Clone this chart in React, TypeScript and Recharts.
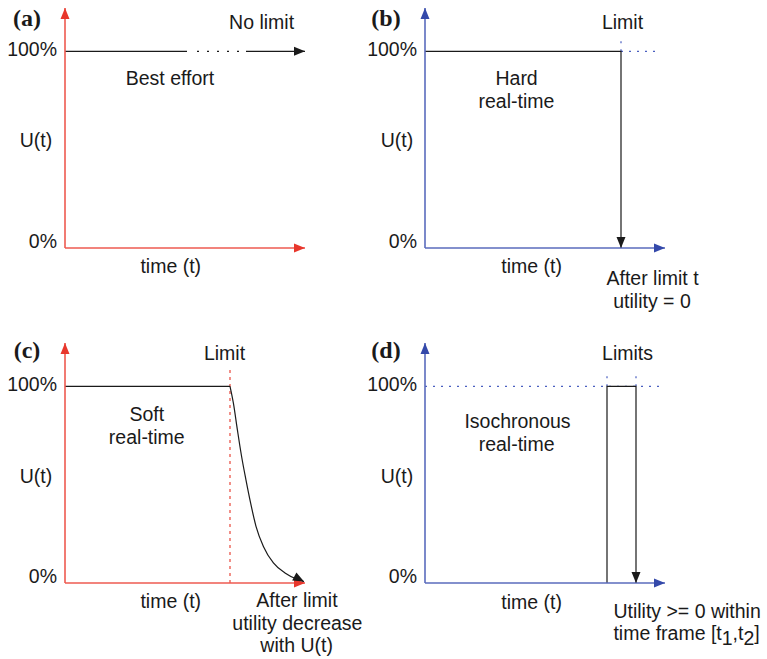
import React from 'react';
import { LineChart, Line, XAxis, YAxis, ReferenceDot } from 'recharts';

type Pt = { t: number; u: number };
type Seg = { s: string; sub?: boolean };
type Note = { t: number; u: number; text: string | Seg[]; anchor?: 'start' | 'middle' | 'end'; bold?: boolean };
type Head = { t: number; u: number; angle: number; color: string };
type Series = { data: Pt[]; color: string; dash?: string; width?: number; curve?: boolean };

const FONT = '"Liberation Sans", Arial, Helvetica, sans-serif';
const INK = '#1a1a1a';
const RED = '#ee5a50';
const RED_HEAD = '#e8372c';
const RED_DOT = '#e8463a';
const BLUE = '#5a6bbd';
const BLUE_HEAD = '#3449aa';
const BLUE_DOT = '#4a5fc0';

const timeDomain = [0, 120];
const utilityDomain = [0, 122];
const utilityTicks = [0, 100];

// (a) best effort
const bestEffortSolid: Pt[] = [{ t: 0, u: 100 }, { t: 61, u: 100 }];
const bestEffortGap: Pt[] = [{ t: 66, u: 100 }, { t: 89, u: 100 }];
const bestEffortTail: Pt[] = [{ t: 90.5, u: 100 }, { t: 120, u: 100 }];

// (b) hard real-time
const hardUtility: Pt[] = [{ t: 0, u: 100 }, { t: 98, u: 100 }, { t: 98, u: 0 }];
const hardLevel: Pt[] = [{ t: 98, u: 100 }, { t: 118, u: 100 }];
const hardMark: Pt[] = [{ t: 98, u: 100 }, { t: 98, u: 107.5 }];

// (c) soft real-time
const softFlat: Pt[] = [{ t: 0, u: 100 }, { t: 82.5, u: 100 }];
const softDecay: Pt[] = [
  { t: 82.5, u: 100 }, { t: 84.2, u: 91.4 }, { t: 86.2, u: 77.8 }, { t: 88.3, u: 64.3 },
  { t: 90.5, u: 52.3 }, { t: 92.8, u: 40.7 }, { t: 95.5, u: 28.8 }, { t: 99.2, u: 18.6 },
  { t: 104.2, u: 10.2 }, { t: 110, u: 5.1 }, { t: 115.8, u: 2.0 }, { t: 119.5, u: 0.7 },
];
const softMark: Pt[] = [{ t: 82.5, u: 0 }, { t: 82.5, u: 109 }];

// (d) isochronous real-time
const isoUtility: Pt[] = [{ t: 91, u: 0 }, { t: 91, u: 100 }, { t: 105.5, u: 100 }, { t: 105.5, u: 0 }];
const isoLevel: Pt[] = [{ t: 0, u: 100 }, { t: 118, u: 100 }];
const isoMarkT1: Pt[] = [{ t: 91, u: 100 }, { t: 91, u: 107.5 }];
const isoMarkT2: Pt[] = [{ t: 105.5, u: 100 }, { t: 105.5, u: 107.5 }];

const notesA: Note[] = [
  { t: -19, u: 116.4, text: '(a)', bold: true },
  { t: 98.3, u: 115, text: 'No limit' },
  { t: 52.5, u: 86.3, text: 'Best effort' },
  { t: -14.5, u: 55, text: 'U(t)' },
  { t: 52.9, u: -9.4, text: 'time (t)' },
];
const notesB: Note[] = [
  { t: -19.5, u: 116.4, text: '(b)', bold: true },
  { t: 98.75, u: 115, text: 'Limit' },
  { t: 45.8, u: 86.3, text: 'Hard' },
  { t: 45.7, u: 74.4, text: 'real-time' },
  { t: -14, u: 55, text: 'U(t)' },
  { t: 53.3, u: -9.4, text: 'time (t)' },
  { t: 113.75, u: -15.2, text: 'After limit t' },
  { t: 113.5, u: -26.9, text: 'utility = 0' },
];
const notesC: Note[] = [
  { t: -19, u: 118, text: '(c)', bold: true },
  { t: 79.75, u: 116.9, text: 'Limit' },
  { t: 40.9, u: 85.8, text: 'Soft' },
  { t: 40.9, u: 74.1, text: 'real-time' },
  { t: -14.5, u: 54.2, text: 'U(t)' },
  { t: 52.9, u: -9.3, text: 'time (t)' },
  { t: 116, u: -8.5, text: 'After limit' },
  { t: 116.2, u: -20.3, text: 'utility decrease' },
  { t: 115.8, u: -31.4, text: 'with U(t)' },
];
const notesD: Note[] = [
  { t: -19.5, u: 118, text: '(d)', bold: true },
  { t: 101.25, u: 116.9, text: 'Limits' },
  { t: 46.25, u: 82.3, text: 'Isochronous' },
  { t: 45.8, u: 70.6, text: 'real-time' },
  { t: -14, u: 54.2, text: 'U(t)' },
  { t: 53.3, u: -9.8, text: 'time (t)' },
  { t: 94.2, u: -14.4, text: 'Utility >= 0 within', anchor: 'start' },
  {
    t: 94.2, u: -25.4, anchor: 'start',
    text: [{ s: 'time frame [t' }, { s: '1', sub: true }, { s: ',t' }, { s: '2', sub: true }, { s: ']' }],
  },
];

function NoteText({ cx, cy, note }: { cx: number; cy: number; note: Note }) {
  const segs: Seg[] = typeof note.text === 'string' ? [{ s: note.text }] : note.text;
  let low = false;
  return (
    <text
      x={cx}
      y={cy}
      dy={note.bold ? '0.3em' : '0.35em'}
      textAnchor={note.anchor ?? 'middle'}
      fontFamily={note.bold ? '"Liberation Serif", "Times New Roman", serif' : FONT}
      fontWeight={note.bold ? 700 : 400}
      fontSize={note.bold ? 24 : 19.5}
      fill={INK}
    >
      {segs.map((seg, i) => {
        const shift = seg.sub && !low ? 5 : !seg.sub && low ? -5 : 0;
        low = !!seg.sub;
        return (
          <tspan key={i} dy={shift || undefined}>
            {seg.s}
          </tspan>
        );
      })}
    </text>
  );
}

// tick labels sit a little above their gridline in the original
function UtilityTick(p: any) {
  const lift = p.payload.value === 0 ? -6.5 : -2;
  return (
    <text x={p.x} y={p.y + lift} dy="0.35em" textAnchor="end" fontFamily={FONT} fontSize={19.5} fill={INK}>
      {`${p.payload.value}%`}
    </text>
  );
}

function ArrowHead({ cx, cy, angle, color }: { cx: number; cy: number; angle: number; color: string }) {
  const len = 11;
  const half = 4.5;
  const a = (angle * Math.PI) / 180;
  const bx = cx - len * Math.cos(a);
  const by = cy - len * Math.sin(a);
  const px = -Math.sin(a) * half;
  const py = Math.cos(a) * half;
  return <polygon points={`${cx},${cy} ${bx + px},${by + py} ${bx - px},${by - py}`} fill={color} />;
}

function Panel({
  left, top, width, height, axis, head, series, heads, notes,
}: {
  left: number; top: number; width: number; height: number; axis: string; head: string;
  series: Series[]; heads: Head[]; notes: Note[];
}) {
  const allHeads: Head[] = [
    { t: 120, u: 0, angle: 0, color: head },
    { t: 0, u: 122, angle: -90, color: head },
    ...heads,
  ];
  return (
    <div style={{ position: 'absolute', left, top }}>
      <LineChart width={width} height={height} margin={{ top: 8, right: width - 305, bottom: height - 278, left: 5 }}>
        <XAxis
          type="number"
          dataKey="t"
          domain={timeDomain}
          tick={false}
          tickLine={false}
          height={30}
          axisLine={{ stroke: axis, strokeWidth: 1.6 }}
        />
        <YAxis
          type="number"
          dataKey="u"
          domain={utilityDomain}
          ticks={utilityTicks}
          interval={0}
          tickLine={false}
          width={60}
          axisLine={{ stroke: axis, strokeWidth: 1.6 }}
          tick={<UtilityTick />}
        />
        {series.map((s, i) => (
          <Line
            key={i}
            data={s.data}
            dataKey="u"
            type={s.curve ? 'monotone' : 'linear'}
            stroke={s.color}
            strokeWidth={s.width ?? 1.2}
            strokeDasharray={s.dash}
            dot={false}
            activeDot={false}
            isAnimationActive={false}
          />
        ))}
        {allHeads.map((h, i) => (
          <ReferenceDot
            key={`h${i}`}
            x={h.t}
            y={h.u}
            r={0}
            ifOverflow="visible"
            shape={(p: any) => <ArrowHead cx={p.cx} cy={p.cy} angle={h.angle} color={h.color} />}
          />
        ))}
        {notes.map((n, i) => (
          <ReferenceDot
            key={`n${i}`}
            x={n.t}
            y={n.u}
            r={0}
            ifOverflow="visible"
            shape={(p: any) => <NoteText cx={p.cx} cy={p.cy} note={n} />}
          />
        ))}
      </LineChart>
    </div>
  );
}

export default function App() {
  return (
    <div style={{ position: 'absolute', left: 0, top: 0, width: 767, height: 659, background: '#fff', fontFamily: FONT }}>
      <Panel
        left={0} top={0} width={380} height={330} axis={RED} head={RED_HEAD}
        series={[
          { data: bestEffortSolid, color: INK },
          { data: bestEffortGap, color: INK, dash: '2 8' },
          { data: bestEffortTail, color: INK },
        ]}
        heads={[{ t: 120, u: 100, angle: 0, color: INK }]}
        notes={notesA}
      />
      <Panel
        left={360} top={0} width={407} height={330} axis={BLUE} head={BLUE_HEAD}
        series={[
          { data: hardLevel, color: BLUE_DOT, dash: '2 6' },
          { data: hardMark, color: BLUE_DOT, dash: '2 6' },
          { data: hardUtility, color: INK },
        ]}
        heads={[{ t: 98, u: 0, angle: 90, color: INK }]}
        notes={notesB}
      />
      <Panel
        left={0} top={335} width={380} height={324} axis={RED} head={RED_HEAD}
        series={[
          { data: softMark, color: RED_DOT, dash: '3 4' },
          { data: softFlat, color: INK },
          { data: softDecay, color: INK, curve: true },
        ]}
        heads={[{ t: 119.5, u: 0.7, angle: 28, color: INK }]}
        notes={notesC}
      />
      <Panel
        left={360} top={335} width={407} height={324} axis={BLUE} head={BLUE_HEAD}
        series={[
          { data: isoLevel, color: BLUE_DOT, dash: '2 6' },
          { data: isoMarkT1, color: BLUE_DOT, dash: '2 6' },
          { data: isoMarkT2, color: BLUE_DOT, dash: '2 6' },
          { data: isoUtility, color: INK },
        ]}
        heads={[{ t: 105.5, u: 0, angle: 90, color: INK }]}
        notes={notesD}
      />
    </div>
  );
}
